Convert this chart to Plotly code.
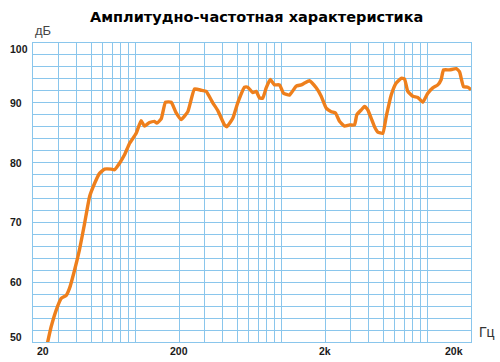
import plotly.graph_objects as go
import math

# ---- data ----
freq_hz = [25.0, 26.6, 28.8, 31.2, 33.8, 35.6, 38.5, 41.6, 45.1, 48.8, 52.8, 57.1, 61.8,
           68.7, 72.3, 78.3, 84.7, 91.6, 101.8, 110, 116, 125.6, 135.9, 141, 151, 161.7,
           176.9, 191.4, 207, 229.8, 255.4, 283.8, 307, 340.8, 368.9, 409.9, 425, 467, 505,
           562, 592, 641, 676, 712, 750, 791, 843, 902, 976, 1039, 1143, 1270, 1374, 1447,
           1566, 1741, 1884, 2038, 2206, 2360, 2514, 2720, 2944, 3186, 3304, 3540, 3730,
           3930, 4146, 4366, 4600, 4976, 5252, 5682, 6148, 6652, 7008, 7384, 7988, 8642,
           9354, 10120, 10950, 11846, 12500, 12960, 14248, 15832, 16680, 17770, 19012, 20000]
level_db = [49.6, 52.5, 55.3, 57.3, 57.8, 59.0, 62.0, 65.4, 69.8, 74.3, 76.5, 78.2, 78.9,
            78.9, 78.8, 79.9, 81.3, 83.2, 84.9, 87.0, 86.1, 86.7, 86.9, 86.6, 87.3, 90.1,
            90.1, 88.3, 87.2, 88.5, 92.3, 92.1, 91.9, 90.0, 88.7, 86.3, 86.0, 87.4, 90.0,
            92.6, 92.6, 91.7, 91.9, 90.8, 90.8, 92.5, 93.9, 93.0, 93.0, 91.6, 91.3, 92.8,
            93.0, 93.3, 93.7, 92.5, 91.1, 89.1, 88.5, 88.3, 86.9, 86.1, 86.3, 86.3, 88.0,
            88.8, 89.4, 88.8, 87.4, 86.0, 85.1, 84.9, 87.7, 91.3, 93.3, 94.1, 94.0, 91.9,
            91.1, 90.9, 90.1, 91.6, 92.5, 93.0, 93.9, 95.5, 95.5, 95.7, 95.2, 92.7, 92.6, 92.2]

x_tick_vals = [20, 200, 2000, 20000]
x_tick_text = ["20", "200", "2k", "20k"]
y_tick_vals = [100, 90, 80, 70, 60, 50]
y_tick_text = ["100", "90", "80", "70", "60", "50"]

title_text = "Амплитудно-частотная характеристика"
y_unit = "дБ"
x_unit = "Гц"

# grid positions (1-9 multiples per decade)
x_grid = []
for dec in [10, 100, 1000, 10000]:
    for m in range(2, 11):
        v = m * dec
        if 20 <= v <= 20000 and v not in x_grid:
            x_grid.append(v)

GRID = "#8ac6ec"
LINE = "#ee7f1c"
TXT = "#1a1a1a"
XMIN, XMAX = math.log10(20), math.log10(20000)

fig = go.Figure()
fig.add_trace(go.Scatter(x=freq_hz, y=level_db, mode="lines",
                         line=dict(color=LINE, width=3.4, shape="spline", smoothing=0.4),
                         hoverinfo="skip", showlegend=False))

fig.update_layout(
    width=500, height=362,
    margin=dict(l=33, r=29, t=43, b=20),
    paper_bgcolor="white", plot_bgcolor="white",
    showlegend=False,
    xaxis=dict(type="log", range=[XMIN, XMAX], tickvals=x_grid,
               showticklabels=False, ticks="", showgrid=True, gridcolor=GRID, gridwidth=1.3,
               showline=True, linecolor=GRID, linewidth=1.3, mirror=True, zeroline=False),
    yaxis=dict(range=[50, 100], dtick=2, tick0=50, showticklabels=False, ticks="",
               showgrid=True, gridcolor=GRID, gridwidth=1.3,
               showline=True, linecolor=GRID, linewidth=1.3, mirror=True, zeroline=False),
)

ann = []
ann.append(dict(text="<b>" + title_text + "</b>", xref="paper", yref="paper",
                x=0.51, y=1.0, yshift=26, xanchor="center", yanchor="middle",
                showarrow=False, font=dict(family="DejaVu Sans", size=14.5, color="#000")))
ann.append(dict(text=y_unit, xref="paper", yref="paper", x=0.0, y=1.0, yshift=13,
                xanchor="left", yanchor="middle", showarrow=False,
                font=dict(family="Liberation Sans", size=13, color="#444")))
ann.append(dict(text=x_unit, xref="paper", yref="paper", x=1.0, y=0.0, xshift=6, yshift=10,
                xanchor="left", yanchor="middle", showarrow=False,
                font=dict(family="Liberation Sans", size=14, color="#333")))

for v, t in zip(y_tick_vals, y_tick_text):
    ys = 0
    if v == 100:
        ys = -6
    elif v == 50:
        ys = 5
    ann.append(dict(text="<b>" + t + "</b>", xref="paper", yref="y", x=-0.057, y=v,
                    yshift=ys, xanchor="left", yanchor="middle", showarrow=False,
                    font=dict(family="Liberation Sans", size=10.5, color=TXT)))
for i, (v, t) in enumerate(zip(x_tick_vals, x_tick_text)):
    px = (math.log10(v) - XMIN) / (XMAX - XMIN)
    if i == 0:
        xa, xs = "left", 2
    elif i == len(x_tick_vals) - 1:
        xa, xs = "right", -6
    else:
        xa, xs = "center", 0
    ann.append(dict(text="<b>" + t + "</b>", xref="paper", yref="paper", x=px, y=0,
                    xshift=xs, yshift=-1, xanchor=xa, yanchor="top", showarrow=False,
                    font=dict(family="Liberation Sans", size=10.5, color=TXT)))
fig.update_layout(annotations=ann)

fig.write_html("out.html")
